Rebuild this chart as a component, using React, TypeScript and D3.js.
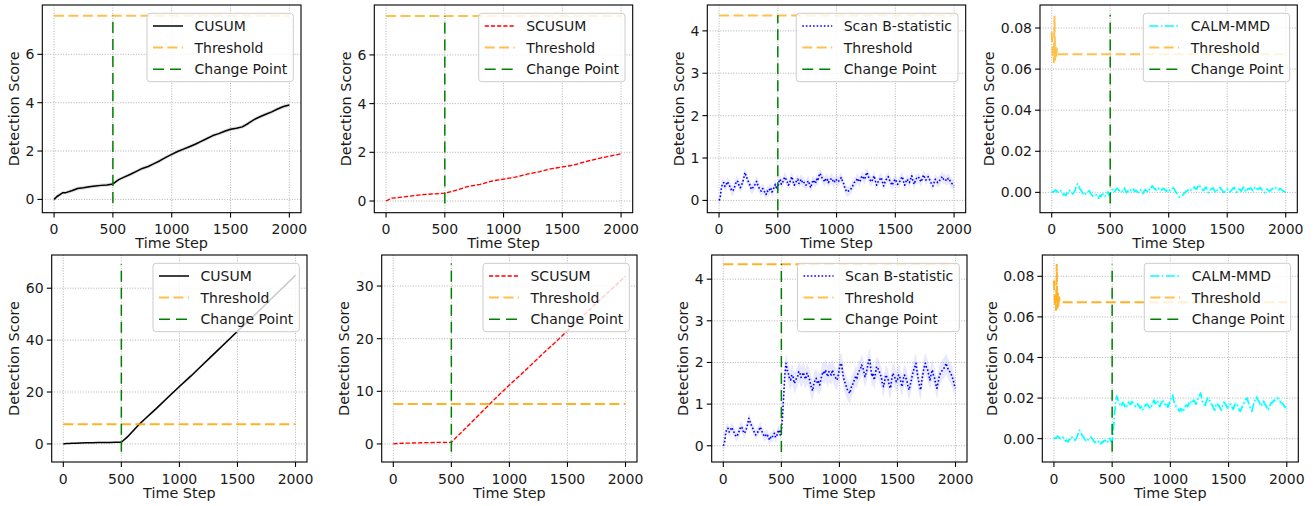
import React from "react";
import * as d3 from "d3";

// ---------------- DATA ----------------
const timeTicks = [0, 500, 1000, 1500, 2000];
const changePoint = 500;

// CUSUM (top row)
const cusumTopT = [0, 25, 50, 75, 100, 150, 200, 250, 300, 350, 400, 450, 500, 550, 600, 650, 700, 750, 800, 850, 900, 950, 1000, 1050, 1100, 1150, 1200, 1250, 1300, 1350, 1400, 1450, 1500, 1550, 1600, 1650, 1700, 1750, 1800, 1850, 1900, 1950, 2000];
const cusumTopV = [0.0, 0.12, 0.2, 0.28, 0.28, 0.36, 0.45, 0.48, 0.52, 0.55, 0.58, 0.6, 0.64, 0.82, 0.93, 1.04, 1.16, 1.28, 1.36, 1.48, 1.6, 1.74, 1.86, 1.98, 2.08, 2.18, 2.28, 2.4, 2.52, 2.64, 2.72, 2.82, 2.9, 2.94, 3.0, 3.14, 3.3, 3.42, 3.52, 3.62, 3.74, 3.84, 3.9];
const cusumTopStd = 0.08;

// CUSUM (bottom row) post-change part
const cusumBotPostT = [550, 600, 650, 700, 800, 900, 1000, 1100, 1200, 1300, 1400, 1500, 1600, 1700, 1800, 1900, 2000];
const cusumBotPostV = [2.6, 5.0, 7.4, 9.5, 13.6, 17.9, 22.1, 26.2, 30.5, 34.8, 39.1, 43.4, 47.6, 51.9, 56.3, 60.6, 65.0];
const cusumBotStd = 0.6;

// SCUSUM
const scusumTopT = [0, 50, 100, 200, 300, 400, 500, 600, 700, 800, 900, 1000, 1100, 1200, 1300, 1400, 1500, 1600, 1700, 1800, 1900, 2000];
const scusumTopV = [0.0, 0.12, 0.14, 0.2, 0.26, 0.29, 0.32, 0.45, 0.6, 0.68, 0.82, 0.9, 0.98, 1.1, 1.2, 1.32, 1.4, 1.48, 1.62, 1.74, 1.84, 1.94];
const scusumTopStd = 0.04;
const scusumBotPostT = [600, 700, 800, 900, 1000, 1100, 1200, 1300, 1400, 1500, 1600, 1700, 1800, 1900, 2000];
const scusumBotPostV = [2.5, 4.7, 6.9, 9.1, 11.2, 13.2, 15.3, 17.4, 19.4, 21.5, 23.6, 25.7, 27.8, 29.8, 31.9];
const scusumBotStd = 0.3;

// Scan B-statistic, sampled every 10 steps (0..2000)
const noisyStep = 10;
const scanBTop = [
  0.0, 0.06, 0.3, 0.4, 0.42, 0.33, 0.36, 0.44, 0.4, 0.34, 0.28, 0.22, 0.24, 0.3, 0.38, 0.46, 0.44, 0.36, 0.3, 0.34,
  0.42, 0.52, 0.66, 0.58, 0.5, 0.44, 0.38, 0.3, 0.26, 0.31, 0.34, 0.4, 0.45, 0.36, 0.3, 0.24, 0.22, 0.28, 0.26, 0.18,
  0.14, 0.22, 0.2, 0.26, 0.3, 0.2, 0.24, 0.33, 0.38, 0.26, 0.3, 0.44, 0.5, 0.38, 0.42, 0.5, 0.55, 0.5, 0.44, 0.36,
  0.4, 0.5, 0.56, 0.44, 0.36, 0.42, 0.46, 0.5, 0.4, 0.46, 0.5, 0.42, 0.44, 0.38, 0.36, 0.42, 0.46, 0.38, 0.3, 0.4,
  0.48, 0.44, 0.4, 0.5, 0.46, 0.58, 0.64, 0.56, 0.52, 0.48, 0.44, 0.52, 0.5, 0.42, 0.46, 0.5, 0.52, 0.46, 0.42, 0.5,
  0.48, 0.44, 0.46, 0.5, 0.54, 0.46, 0.4, 0.3, 0.24, 0.2, 0.22, 0.23, 0.26, 0.3, 0.36, 0.42, 0.44, 0.48, 0.52, 0.44,
  0.46, 0.54, 0.58, 0.52, 0.5, 0.6, 0.66, 0.56, 0.52, 0.46, 0.44, 0.52, 0.58, 0.46, 0.36, 0.42, 0.48, 0.5, 0.54, 0.44,
  0.34, 0.42, 0.48, 0.52, 0.56, 0.48, 0.44, 0.36, 0.4, 0.46, 0.5, 0.44, 0.38, 0.42, 0.46, 0.52, 0.56, 0.44, 0.36, 0.44,
  0.5, 0.46, 0.42, 0.5, 0.58, 0.46, 0.38, 0.46, 0.52, 0.5, 0.54, 0.48, 0.44, 0.52, 0.6, 0.54, 0.48, 0.52, 0.56, 0.5,
  0.44, 0.38, 0.34, 0.42, 0.5, 0.46, 0.42, 0.45, 0.48, 0.52, 0.56, 0.5, 0.52, 0.48, 0.46, 0.52, 0.5, 0.44, 0.4, 0.38,
  0.34,
];
const scanBPreStd = 0.12;
// bottom row, from t = 500 on (every 10 steps)
const scanBBotPost = [
  0.38, 0.7, 1.2, 1.7, 1.98, 1.82, 1.74, 1.62, 1.58, 1.7, 1.66, 1.5, 1.54, 1.62, 1.66, 1.78, 1.74, 1.64, 1.7, 1.76,
  1.66, 1.6, 1.74, 1.68, 1.62, 1.5, 1.38, 1.32, 1.5, 1.56, 1.62, 1.5, 1.54, 1.46, 1.58, 1.7, 1.78, 1.72, 1.82, 1.74,
  1.66, 1.78, 1.74, 1.7, 1.82, 1.72, 1.66, 1.62, 1.58, 1.7, 1.86, 1.98, 1.94, 1.72, 1.58, 1.5, 1.42, 1.34, 1.3, 1.26,
  1.38, 1.46, 1.5, 1.6, 1.66, 1.62, 1.74, 1.8, 1.82, 1.94, 1.9, 1.78, 1.66, 1.74, 1.86, 2.02, 2.1, 1.86, 1.66, 1.74,
  1.58, 1.72, 1.9, 1.86, 1.82, 1.72, 1.66, 1.5, 1.42, 1.56, 1.7, 1.64, 1.58, 1.44, 1.38, 1.58, 1.74, 1.68, 1.62, 1.54,
  1.58, 1.7, 1.66, 1.52, 1.42, 1.6, 1.7, 1.64, 1.58, 1.44, 1.34, 1.46, 1.58, 1.72, 1.82, 1.9, 1.98, 1.76, 1.58, 1.44,
  1.34, 1.56, 1.74, 1.88, 1.98, 1.88, 1.82, 1.7, 1.58, 1.72, 1.82, 1.7, 1.62, 1.48, 1.38, 1.52, 1.66, 1.74, 1.78, 1.84,
  1.86, 1.92, 1.98, 1.88, 1.82, 1.78, 1.74, 1.66, 1.58, 1.46,
  1.38,
];
const scanBPostStd = 0.25;

// CALM-MMD, sampled every 10 steps (0..2000)
const calmTop = [
  0.0, 0.0003, 0.0002, 0.0012, 0.0008, 0.0002, 0.0, 0.0009, 0.0006, -0.0004, -0.0012, -0.0008, -0.0016, -0.0006, -0.0004, 0.001, 0.0006, -0.0002, -0.0008, 0.0,
  0.001, 0.003, 0.0042, 0.003, 0.0018, 0.001, 0.0002, -0.0008, -0.0014, -0.0006, -0.0004, 0.0004, 0.0008, -0.0002, -0.001, -0.0018, -0.0016, -0.001, -0.0012, -0.0022,
  -0.0028, -0.0016, -0.002, -0.001, -0.0008, -0.002, -0.0018, -0.0004, 0.0002, -0.0014, -0.001, 0.0012, 0.0014, 0.0002, 0.0006, 0.0016, 0.002, 0.0012, 0.0008, 0.0,
  0.0004, 0.0014, 0.0022, 0.0008, -0.0002, 0.0006, 0.0012, 0.0016, 0.0006, 0.001, 0.0016, 0.0004, 0.001, 0.0004, 0.0, 0.0008, 0.0012, 0.0002, -0.0006, 0.0006,
  0.0014, 0.0008, 0.0004, 0.0016, 0.001, 0.0024, 0.0032, 0.0022, 0.0018, 0.0012, 0.001, 0.002, 0.0016, 0.0008, 0.0012, 0.0018, 0.0018, 0.001, 0.0006, 0.0016,
  0.0014, 0.0008, 0.0012, 0.0018, 0.0022, 0.0014, 0.0004, -0.0006, -0.0016, -0.0022, -0.002, -0.0018, -0.0014, -0.0006, 0.0, 0.0006, 0.0008, 0.0014, 0.0018, 0.001,
  0.0012, 0.002, 0.0026, 0.0018, 0.0016, 0.0028, 0.0038, 0.0026, 0.0018, 0.0012, 0.001, 0.002, 0.0026, 0.001, -0.0002, 0.0006, 0.0014, 0.0018, 0.0022, 0.001,
  -0.0002, 0.0008, 0.0014, 0.002, 0.0024, 0.0014, 0.0008, 0.0, 0.0004, 0.0012, 0.0016, 0.0008, 0.0002, 0.0006, 0.0012, 0.002, 0.0024, 0.001, 0.0, 0.001,
  0.0016, 0.0012, 0.0006, 0.0018, 0.0026, 0.0012, 0.0002, 0.0012, 0.0018, 0.0016, 0.0022, 0.0014, 0.0008, 0.0018, 0.0028, 0.002, 0.0014, 0.0018, 0.0024, 0.0016,
  0.001, 0.0002, -0.0002, 0.0008, 0.0016, 0.001, 0.0006, 0.001, 0.0014, 0.002, 0.0026, 0.0022, 0.002, 0.0014, 0.0012, 0.0018, 0.0016, 0.001, 0.0006, 0.0004,
  0.0,
];
const calmPreStd = 0.0008;
const calmBotPost = [
  -0.001, 0.004, 0.012, 0.018, 0.021, 0.019, 0.018, 0.0165, 0.016, 0.0178, 0.017, 0.0158, 0.015, 0.0168, 0.018, 0.0172, 0.017, 0.0182, 0.0175, 0.0168,
  0.016, 0.0172, 0.017, 0.0162, 0.015, 0.0158, 0.014, 0.0152, 0.016, 0.0168, 0.017, 0.0162, 0.0155, 0.0148, 0.0165, 0.0178, 0.019, 0.0172, 0.018, 0.0188,
  0.0165, 0.0158, 0.0175, 0.0182, 0.0185, 0.0172, 0.0165, 0.0172, 0.0155, 0.0172, 0.019, 0.0205, 0.0215, 0.0188, 0.017, 0.0158, 0.015, 0.0142, 0.0135, 0.0148,
  0.014, 0.0132, 0.0155, 0.0162, 0.0165, 0.0158, 0.0175, 0.0168, 0.0185, 0.0178, 0.019, 0.0182, 0.017, 0.0188, 0.02, 0.0212, 0.0225, 0.0195, 0.0175, 0.0168,
  0.0165, 0.0185, 0.02, 0.0192, 0.0185, 0.0172, 0.0165, 0.0152, 0.014, 0.0162, 0.0175, 0.0165, 0.016, 0.0148, 0.014, 0.0165, 0.018, 0.0172, 0.0165, 0.0152,
  0.016, 0.0168, 0.017, 0.0155, 0.0145, 0.0162, 0.0175, 0.0168, 0.016, 0.0145, 0.0135, 0.0148, 0.016, 0.0175, 0.0185, 0.0195, 0.02, 0.0178, 0.016, 0.0148,
  0.0135, 0.0158, 0.018, 0.0195, 0.0205, 0.0192, 0.0185, 0.0172, 0.016, 0.0175, 0.0185, 0.0172, 0.0165, 0.0152, 0.014, 0.0158, 0.017, 0.0178, 0.018, 0.0188,
  0.019, 0.0198, 0.02, 0.0192, 0.0185, 0.0178, 0.0175, 0.0168, 0.016, 0.0152,
  0.014,
];
const calmPostStd = 0.0016;

// Thresholds
const thrCusum = 7.6;
const thrScanB = 4.36;
const calmThrT = [0, 4, 9, 14, 18, 24, 29, 34, 39, 44, 50, 2000];
const calmThrV = [0.078, 0.073, 0.066, 0.07, 0.063, 0.086, 0.064, 0.072, 0.065, 0.07, 0.0672, 0.0672];

// Change-point vertical line extents (data units) per panel
const vlineTop = [[-0.15, 7.6], [-0.1, 7.6], [-0.23, 4.37], [-0.0054, 0.0864]];
const vlineBot = [[-3.0, 69.3], [-1.47, 34.3], [-0.15, 4.37], [-0.0064, 0.086]];

// Axis settings
const yDomTop = [[-0.55, 8.04], [-0.48, 8.05], [-0.29, 4.61], [-0.0099, 0.0912]];
const yDomBot = [[-6.97, 72.8], [-3.43, 35.9], [-0.39, 4.58], [-0.0115, 0.0905]];
const yTicksTop = [[0, 2, 4, 6], [0, 2, 4, 6], [0, 1, 2, 3, 4], [0, 0.02, 0.04, 0.06, 0.08]];
const yTicksBot = [[0, 20, 40, 60], [0, 10, 20, 30], [0, 1, 2, 3, 4], [0, 0.02, 0.04, 0.06, 0.08]];
const seriesLabels = ["CUSUM", "SCUSUM", "Scan B-statistic", "CALM-MMD"];
const thresholdLabel = "Threshold";
const changeLabel = "Change Point";
const xLabel = "Time Step";
const yLabel = "Detection Score";

// ---------------- helpers ----------------
type Pt = [number, number, number];

let ctx: CanvasRenderingContext2D | null = null;
function textW(s: string, size = 14) {
  if (!ctx && typeof document !== "undefined") ctx = document.createElement("canvas").getContext("2d");
  if (!ctx) return s.length * size * 0.6;
  ctx.font = `${size}px "DejaVu Sans"`;
  return ctx.measureText(s).width;
}

function zipT(ts: number[], vs: number[], sd: number): Pt[] {
  return ts.map((t, i) => [t, vs[i], sd]);
}
function zipNoisy(vs: number[], t0: number, sdPre: number, sdPost: number): Pt[] {
  return vs.map((v, i) => {
    const t = t0 + i * noisyStep;
    return [t, v, t <= changePoint ? sdPre : sdPost];
  });
}

const FONT = '"DejaVu Sans", sans-serif';
const TXT = "#1a1a1a";

interface Style {
  color: string;
  width: number;
  dash?: string;
  bandColor: string;
  bandOpacity: number;
}
const styles: Style[] = [
  { color: "#000000", width: 1.5, bandColor: "#000000", bandOpacity: 0.12 },
  { color: "#ff0000", width: 1.3, dash: "4.2,2", bandColor: "#ff0000", bandOpacity: 0.1 },
  { color: "#0000ff", width: 1.6, dash: "1.6,2", bandColor: "#0000ff", bandOpacity: 0.09 },
  { color: "#00ffff", width: 1.6, dash: "9,2.5,1.6,2.5", bandColor: "#00ffff", bandOpacity: 0.13 },
];

interface PanelSpec {
  x0: number; x1: number; y0: number; y1: number;
  yDom: number[]; yTicks: number[]; yFmt: (v: number) => string;
  data: Pt[]; style: Style; label: string;
  thr: [number, number][]; thrOpacity: number;
  vline: number[];
  id: string;
}

function Panel({ p }: { p: PanelSpec }) {
  const x = d3.scaleLinear().domain([-100, 2099]).range([p.x0, p.x1]);
  const y = d3.scaleLinear().domain(p.yDom).range([p.y1, p.y0]);
  const line = d3.line<Pt>().x((d) => x(d[0])).y((d) => y(d[1]));
  const area = d3.area<Pt>().x((d) => x(d[0])).y0((d) => y(d[1] - d[2])).y1((d) => y(d[1] + d[2]));
  const thrLine = d3.line<[number, number]>().x((d) => x(d[0])).y((d) => y(d[1]));

  const tickLabels = p.yTicks.map(p.yFmt);
  const maxTickW = Math.max(...tickLabels.map((s) => textW(s)));
  const ylabX = p.x0 - 8 - maxTickW - 6.5;
  const cy = (p.y0 + p.y1) / 2;

  const labels = [p.label, thresholdLabel, changeLabel];
  const maxW = Math.max(...labels.map((s) => textW(s)));
  const lw = 6 + 30 + 11.5 + maxW + 6;
  const lx = p.x1 - 7.7 - lw;
  const ly = p.y0 + 8.3;
  const rowY = [12.7, 34.3, 56];

  const gridStyle = { stroke: "#a0a0a0", strokeWidth: 0.8, strokeDasharray: "1,1.6" };

  return (
    <g>
      <defs>
        <clipPath id={p.id}>
          <rect x={p.x0} y={p.y0} width={p.x1 - p.x0} height={p.y1 - p.y0} />
        </clipPath>
      </defs>
      {timeTicks.map((t) => (
        <line key={"gx" + t} x1={x(t)} x2={x(t)} y1={p.y0} y2={p.y1} {...gridStyle} />
      ))}
      {p.yTicks.map((v) => (
        <line key={"gy" + v} x1={p.x0} x2={p.x1} y1={y(v)} y2={y(v)} {...gridStyle} />
      ))}
      <g clipPath={`url(#${p.id})`}>
        <path d={area(p.data) || ""} fill={p.style.bandColor} fillOpacity={p.style.bandOpacity} stroke="none" />
        <path d={line(p.data) || ""} fill="none" stroke={p.style.color} strokeWidth={p.style.width} strokeDasharray={p.style.dash} strokeLinejoin="round" />
        <path d={thrLine(p.thr) || ""} fill="none" stroke="#ffa500" strokeOpacity={p.thrOpacity} strokeWidth={2} strokeDasharray="10,4.4" />
        <line x1={x(changePoint)} x2={x(changePoint)} y1={y(p.vline[0])} y2={y(p.vline[1])} stroke="#008000" strokeWidth={1.5} strokeDasharray="11,6" />
      </g>
      <rect x={lx} y={ly} width={lw} height={68.4} rx={3} fill="#ffffff" fillOpacity={0.8} stroke="#cccccc" strokeWidth={1} />
      <line x1={lx + 6} x2={lx + 36} y1={ly + rowY[0]} y2={ly + rowY[0]} stroke={p.style.color} strokeWidth={p.style.width} strokeDasharray={p.style.dash} />
      <line x1={lx + 6} x2={lx + 36} y1={ly + rowY[1]} y2={ly + rowY[1]} stroke="#ffa500" strokeOpacity={0.7} strokeWidth={2} strokeDasharray="10,4.4" />
      <line x1={lx + 6} x2={lx + 36} y1={ly + rowY[2]} y2={ly + rowY[2]} stroke="#008000" strokeWidth={1.5} strokeDasharray="11,6" />
      {labels.map((s, i) => (
        <text key={s} x={lx + 47.5} y={ly + rowY[i]} dy="0.36em" fontSize={14} fontFamily={FONT} fill={TXT}>
          {s}
        </text>
      ))}
      <rect x={p.x0} y={p.y0} width={p.x1 - p.x0} height={p.y1 - p.y0} fill="none" stroke="#000" strokeWidth={1.1} />
      {timeTicks.map((t) => (
        <g key={"xt" + t}>
          <line x1={x(t)} x2={x(t)} y1={p.y1} y2={p.y1 + 4.9} stroke="#000" strokeWidth={1.1} />
          <text x={x(t)} y={p.y1 + 21.5} textAnchor="middle" fontSize={14} fontFamily={FONT} fill={TXT}>
            {t}
          </text>
        </g>
      ))}
      {p.yTicks.map((v, i) => (
        <g key={"yt" + v}>
          <line x1={p.x0 - 4.9} x2={p.x0} y1={y(v)} y2={y(v)} stroke="#000" strokeWidth={1.1} />
          <text x={p.x0 - 8} y={y(v)} dy="0.36em" textAnchor="end" fontSize={14} fontFamily={FONT} fill={TXT}>
            {tickLabels[i]}
          </text>
        </g>
      ))}
      <text x={(p.x0 + p.x1) / 2} y={p.y1 + 35.5} textAnchor="middle" fontSize={14.4} fontFamily={FONT} fill={TXT}>
        {xLabel}
      </text>
      <text transform={`translate(${ylabX},${cy}) rotate(-90)`} textAnchor="middle" fontSize={14.4} fontFamily={FONT} fill={TXT}>
        {yLabel}
      </text>
    </g>
  );
}

export default function App() {
  const fmtInt = d3.format("d");
  const fmt2 = d3.format(".2f");
  const fmts = [fmtInt, fmtInt, fmtInt, fmt2];

  const topData: Pt[][] = [
    zipT(cusumTopT, cusumTopV, cusumTopStd),
    zipT(scusumTopT, scusumTopV, scusumTopStd),
    zipNoisy(scanBTop, 0, scanBPreStd, scanBPreStd),
    zipNoisy(calmTop, 0, calmPreStd, calmPreStd),
  ];
  const cusumPre = topData[0].filter((d) => d[0] <= changePoint);
  const scusumPre = topData[1].filter((d) => d[0] <= changePoint);
  const scanPre = topData[2].filter((d) => d[0] < changePoint);
  const calmPre = topData[3].filter((d) => d[0] < changePoint);
  const botData: Pt[][] = [
    [...cusumPre, ...zipT(cusumBotPostT, cusumBotPostV, cusumBotStd)],
    [...scusumPre, ...zipT(scusumBotPostT, scusumBotPostV, scusumBotStd)],
    [...scanPre, ...zipNoisy(scanBBotPost, changePoint, scanBPreStd, scanBPostStd)],
    [...calmPre, ...zipNoisy(calmBotPost, changePoint, calmPreStd, calmPostStd)],
  ];

  const thrFull = (v: number): [number, number][] => [[0, v], [2000, v]];
  const calmThr: [number, number][] = calmThrT.map((t, i) => [t, calmThrV[i]]);
  const thrs = [thrFull(thrCusum), thrFull(thrCusum), thrFull(thrScanB), calmThr];

  const topX = [[42.3, 301], [374.3, 632.7], [707.3, 965.7], [1040, 1297.3]];
  const botX = [[51.7, 307], [381.7, 637], [711.7, 967], [1042.3, 1298.3]];

  const panels: PanelSpec[] = [];
  for (let i = 0; i < 4; i++) {
    panels.push({
      x0: topX[i][0], x1: topX[i][1], y0: 5, y1: 212.7,
      yDom: yDomTop[i], yTicks: yTicksTop[i], yFmt: fmts[i],
      data: topData[i], style: styles[i], label: seriesLabels[i],
      thr: thrs[i], thrOpacity: 0.7, vline: vlineTop[i], id: "clipT" + i,
    });
  }
  for (let i = 0; i < 4; i++) {
    panels.push({
      x0: botX[i][0], x1: botX[i][1], y0: 255, y1: 462,
      yDom: yDomBot[i], yTicks: yTicksBot[i], yFmt: fmts[i],
      data: botData[i], style: styles[i], label: seriesLabels[i],
      thr: thrs[i], thrOpacity: 0.85, vline: vlineBot[i], id: "clipB" + i,
    });
  }

  return (
    <svg width={1315} height={506} style={{ position: "absolute", left: 0, top: 0, background: "#fff" }}>
      <rect x={0} y={0} width={1315} height={506} fill="#fff" />
      {panels.map((p) => (
        <Panel key={p.id} p={p} />
      ))}
    </svg>
  );
}
